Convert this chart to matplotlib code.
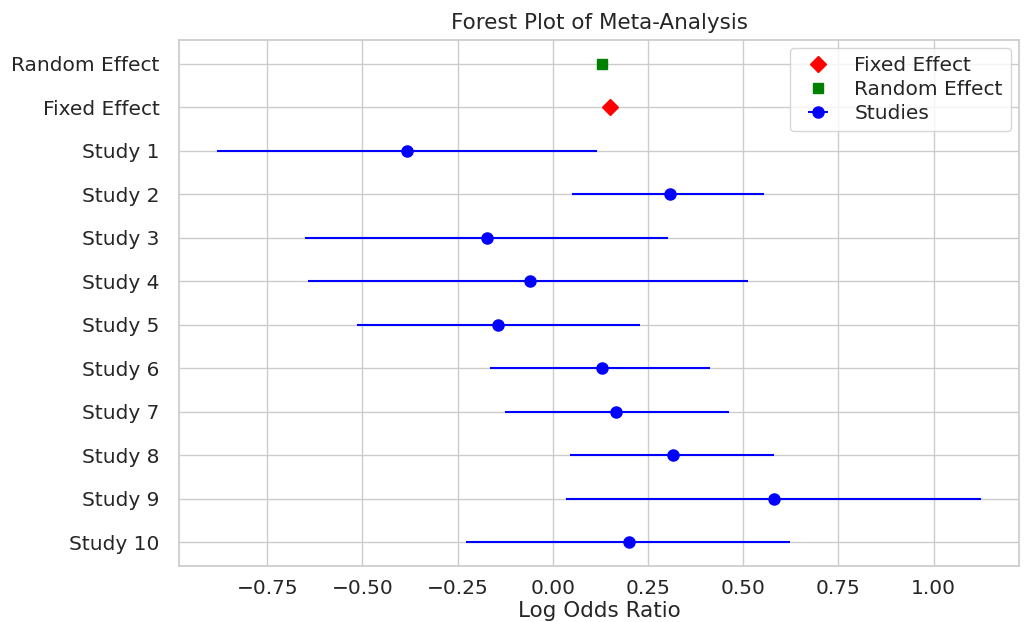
import matplotlib
matplotlib.use("Agg")
import matplotlib.pyplot as plt
import seaborn as sns
import numpy as np

studies = ["Study %d" % i for i in range(1, 11)]
log_or = [-0.382, 0.307, -0.172, -0.059, -0.143, 0.128, 0.167, 0.317, 0.580, 0.199]
ci_low = [-0.881, 0.051, -0.650, -0.642, -0.513, -0.164, -0.125, 0.046, 0.035, -0.227]
ci_high = [0.117, 0.556, 0.303, 0.514, 0.228, 0.414, 0.464, 0.582, 1.124, 0.622]
fixed_effect = 0.151
random_effect = 0.130


def main():
    sns.set_theme(style="whitegrid")
    fig, ax = plt.subplots(figsize=(10.24, 6.22), dpi=100)
    fig.subplots_adjust(left=0.175, right=0.995, top=0.936, bottom=0.09)

    # rows from the top: random, fixed, then the studies (axis inverted)
    y_random = 0
    y_fixed = 1
    y_studies = np.arange(len(studies)) + 2

    lo = np.array(log_or) - np.array(ci_low)
    hi = np.array(ci_high) - np.array(log_or)

    ax.plot([fixed_effect], [y_fixed], "D", color="red", markersize=8, label="Fixed Effect")
    ax.plot([random_effect], [y_random], "s", color="green", markersize=7.5, label="Random Effect")
    ax.errorbar(log_or, y_studies, xerr=[lo, hi], fmt="o", color="blue",
                ecolor="blue", markersize=8, capsize=0, label="Studies")

    ax.set_yticks([y_random, y_fixed] + list(y_studies))
    ax.set_yticklabels(["Random Effect", "Fixed Effect"] + studies, fontsize=14.5)
    ax.invert_yaxis()
    ax.tick_params(axis="x", labelsize=14.5)
    ax.tick_params(axis="y", pad=8)
    ax.set_xlabel("Log Odds Ratio", fontsize=15.5, labelpad=2)
    ax.set_title("Forest Plot of Meta-Analysis", fontsize=15.5, pad=8)
    ax.legend(loc="upper right", fontsize=14.5, borderaxespad=0.4,
              handletextpad=0.8, labelspacing=0.25, borderpad=0.4)

    fig.savefig("out.png", dpi=100)

main()
